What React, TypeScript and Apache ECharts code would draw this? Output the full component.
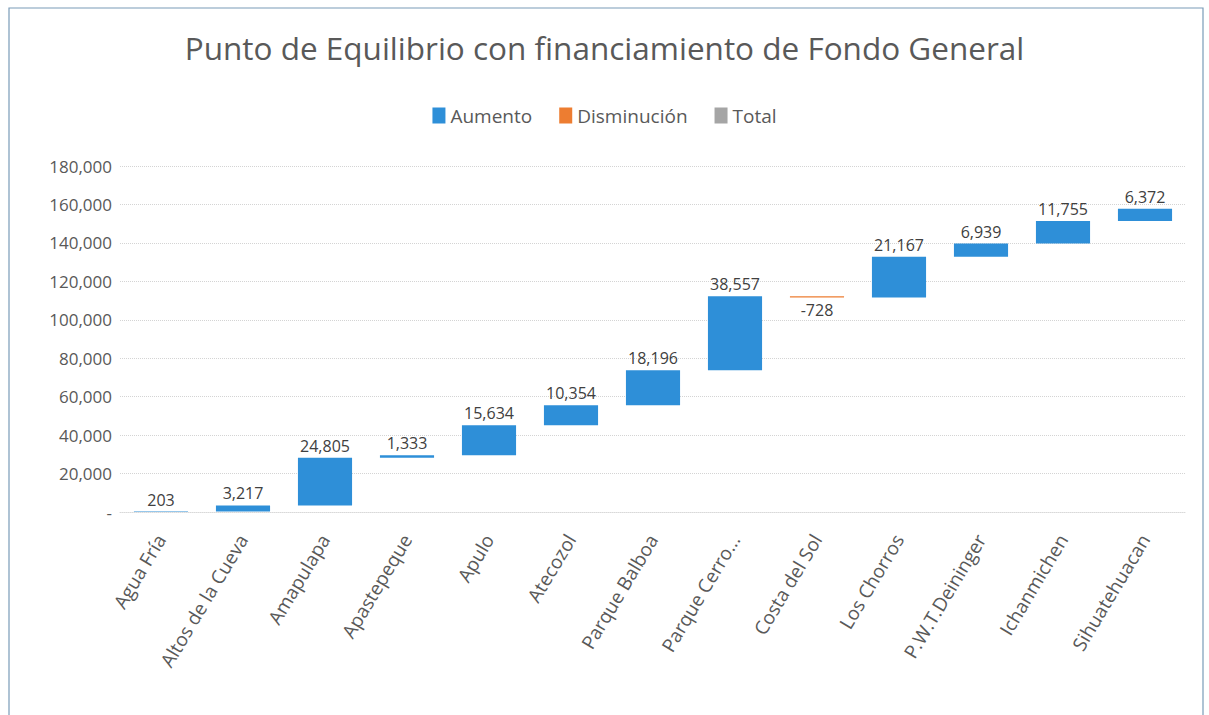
import React, { useEffect, useRef } from "react";
import * as echarts from "echarts";

const categories = [
  "Agua Fría",
  "Altos de la Cueva",
  "Amapulapa",
  "Apastepeque",
  "Apulo",
  "Atecozol",
  "Parque Balboa",
  "Parque Cerro...",
  "Costa del Sol",
  "Los Chorros",
  "P.W.T.Deininger",
  "Ichanmichen",
  "Sihuatehuacan",
];

const changes = [203, 3217, 24805, 1333, 15634, 10354, 18196, 38557, -728, 21167, 6939, 11755, 6372];

const legendNames = ["Aumento", "Disminución", "Total"];
const colors = { up: "#2E8FD8", down: "#ED7D31", total: "#A5A5A5" };

const fmt = (v: number) => v.toLocaleString("en-US");

export default function App() {
  const ref = useRef<HTMLDivElement>(null);
  useEffect(() => {
    if (!ref.current) return;
    const chart = echarts.init(ref.current, null, { renderer: "svg" });
    const base: number[] = [];
    const up: (number | string)[] = [];
    const down: (number | string)[] = [];
    let cum = 0;
    changes.forEach((v) => {
      if (v >= 0) {
        base.push(cum);
        up.push(v);
        down.push("-");
        cum += v;
      } else {
        cum += v;
        base.push(cum);
        up.push("-");
        down.push(-v);
      }
    });
    const font = "'Open Sans', sans-serif";
    chart.setOption({
      animation: false,
      textStyle: { fontFamily: font },
      title: {
        text: "Punto de Equilibrio con financiamiento de Fondo General",
        left: "center",
        top: 26,
        textStyle: { fontFamily: font, fontSize: 31.5, fontWeight: "normal", color: "#595959" },
      },
      legend: {
        data: legendNames,
        top: 101,
        left: "center",
        itemWidth: 13,
        itemHeight: 16,
        itemGap: 27,
        icon: "rect",
        textStyle: { fontFamily: font, fontSize: 19, color: "#595959" },
      },
      grid: { left: 120, right: 23, top: 166, bottom: 203, containLabel: false },
      xAxis: {
        type: "category",
        data: categories,
        axisTick: { show: false },
        axisLine: { show: true, lineStyle: { color: "#d9d9d9", type: "dotted" } },
        axisLabel: {
          rotate: 59,
          interval: 0,
          fontFamily: font,
          fontSize: 19,
          color: "#595959",
          margin: 24,
        },
      },
      yAxis: {
        type: "value",
        min: 0,
        max: 180000,
        interval: 20000,
        axisLine: { show: false },
        axisTick: { show: false },
        splitLine: { lineStyle: { color: "#d4d4d4", type: "dotted" } },
        axisLabel: {
          fontFamily: font,
          fontSize: 17,
          color: "#595959",
          margin: 8,
          formatter: (v: number) => (v === 0 ? "-" : fmt(v)),
        },
      },
      series: [
        {
          name: "base",
          type: "bar",
          stack: "w",
          data: base,
          itemStyle: { color: "transparent" },
          emphasis: { disabled: true },
          barWidth: "66%",
          silent: true,
        },
        {
          name: "Aumento",
          type: "bar",
          stack: "w",
          data: up,
          itemStyle: { color: colors.up },
          label: {
            show: true,
            position: "top",
            fontFamily: font,
            fontSize: 16,
            color: "#404040",
            distance: 4,
            formatter: (p: any) => fmt(p.value),
          },
        },
        {
          name: "Disminución",
          type: "bar",
          stack: "w",
          data: down,
          itemStyle: { color: colors.down },
          label: {
            show: true,
            position: "bottom",
            fontFamily: font,
            fontSize: 16,
            color: "#404040",
            distance: 4,
            formatter: (p: any) => "-" + fmt(p.value),
          },
        },
        {
          name: "Total",
          type: "bar",
          stack: "w",
          data: [],
          itemStyle: { color: colors.total },
        },
      ],
      graphic: [
        {
          type: "rect",
          shape: { x: 9, y: 8, width: 1194, height: 720 },
          style: { fill: "none", stroke: "#7a9cb8", lineWidth: 1.2 },
          silent: true,
        },
      ],
    });
    return () => chart.dispose();
  }, []);
  return (
    <div
      ref={ref}
      style={{ position: "fixed", left: 0, top: 0, width: 1209, height: 715, background: "#fff" }}
    />
  );
}
